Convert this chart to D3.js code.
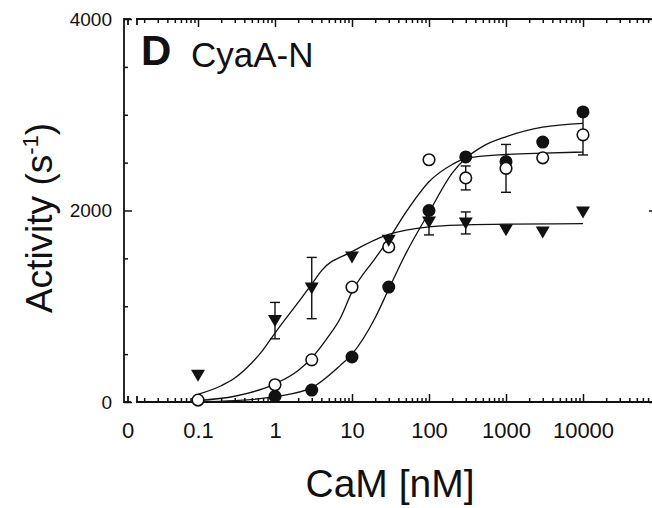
<!DOCTYPE html>
<html>
<head>
<meta charset="utf-8">
<script src="https://cdn.jsdelivr.net/npm/d3@7"></script>
<style>
  body { margin: 0; background: #fff; }
  svg { display: block; }
  text { font-family: "Liberation Sans", Arial, Helvetica, sans-serif; fill: #111; }
</style>
</head>
<body>
<svg id="chart" width="652" height="508"></svg>
<script>
// ---- data ----
// filled circles
const filledX = [1, 3, 10, 30, 100, 300, 1000, 3000, 10000];
const filledY = [60, 125, 470, 1200, 2000, 2560, 2510, 2715, 3030];
// open circles
const openX = [0.1, 1, 3, 10, 30, 100, 300, 1000, 3000, 10000];
const openY = [20, 180, 440, 1200, 1620, 2530, 2340, 2440, 2550, 2790];
const openErr = [0, 0, 0, 0, 0, 0, 125, 250, 0, 210];
// triangles
const triX = [0.1, 1, 3, 10, 30, 100, 300, 1000, 3000, 10000];
const triY = [280, 850, 1190, 1515, 1690, 1880, 1870, 1800, 1775, 1985];
const triErr = [0, 190, 320, 0, 0, 135, 115, 0, 0, 0];

// fitted curves
const triFitX = [0.1, 0.2, 0.3, 0.5, 0.7, 1, 2, 3, 4, 10, 30, 100, 300, 1000, 10000];
const triFitY = [80, 170, 250, 410, 545, 720, 1040, 1230, 1370, 1570, 1750, 1830, 1850, 1858, 1862];
const openFitX = [0.1, 0.3, 1, 2, 3, 5, 7, 10, 20, 30, 50, 100, 200, 300, 1000, 3000, 10000];
const openFitY = [15, 60, 190, 330, 460, 690, 870, 1150, 1500, 1700, 1980, 2300, 2480, 2545, 2585, 2600, 2610];
const filledFitX = [0.1, 0.3, 1, 3, 7, 10, 20, 30, 50, 100, 200, 300, 500, 1000, 3000, 10000];
const filledFitY = [3, 15, 55, 150, 380, 500, 880, 1180, 1550, 1980, 2390, 2545, 2670, 2770, 2870, 2910];

// ticks
const xMajor = [0.1, 1, 10, 100, 1000, 10000];
const xMajorLabels = ["0.1", "1", "10", "100", "1000", "10000"];
const yMajor = [0, 2000, 4000];
const yMajorLabels = ["0", "2000", "4000"];

// ---- layout ----
const svg = d3.select("#chart");
const x = d3.scaleLog().domain([0.1, 10000]).range([198, 583]);
const y = d3.scaleLinear().domain([0, 4000]).range([402, 19]);
const axisL = 124, axisR = 657, zeroX = 128, breakStart = 136, right = 652;

// minor log ticks 0.02 .. 80000
const xMinor = [];
for (let e = -2; e <= 4; e++) {
  for (let m = 2; m <= 9; m++) {
    const v = m * Math.pow(10, e);
    if (x(v) > breakStart && x(v) < right) xMinor.push(v);
  }
}
const yMinor = d3.range(500, 4000, 500).filter(v => v !== 2000);

function styleAxis(g) {
  g.select(".domain").remove();
  g.selectAll(".tick line").attr("stroke", "#111").attr("stroke-width", 1.5);
}

// bottom axis
svg.append("g").attr("transform", "translate(0,402)")
  .call(d3.axisBottom(x).tickValues(xMinor).tickSize(-4).tickFormat(""))
  .call(styleAxis);
svg.append("g").attr("transform", "translate(0,402)")
  .call(d3.axisBottom(x).tickValues(xMajor).tickSize(-8).tickPadding(20)
    .tickFormat((d, i) => xMajorLabels[i]))
  .call(styleAxis)
  .call(g => g.selectAll("text").attr("font-size", 22).attr("font-family", null).attr("fill", "#111"));

// top axis
svg.append("g").attr("transform", "translate(0,19)")
  .call(d3.axisTop(x).tickValues(xMinor).tickSize(-4).tickFormat(""))
  .call(styleAxis);
svg.append("g").attr("transform", "translate(0,19)")
  .call(d3.axisTop(x).tickValues(xMajor).tickSize(-8).tickFormat(""))
  .call(styleAxis);

// left axis
svg.append("g").attr("transform", `translate(${axisL},0)`)
  .call(d3.axisLeft(y).tickValues(yMinor).tickSize(-4).tickFormat(""))
  .call(styleAxis);
svg.append("g").attr("transform", `translate(${axisL},0)`)
  .call(d3.axisLeft(y).tickValues(yMajor).tickSize(-8).tickPadding(12)
    .tickFormat((d, i) => yMajorLabels[i]))
  .call(styleAxis)
  .call(g => g.selectAll("text").attr("font-size", 19).attr("font-family", null).attr("fill", "#111"));

// right axis (line sits just past the edge)
svg.append("g").attr("transform", `translate(${axisR},0)`)
  .call(d3.axisRight(y).tickValues(yMajor).tickSize(-8).tickFormat(""))
  .call(styleAxis);

// axis lines with the break near zero
const lines = svg.append("g").attr("stroke", "#111").attr("stroke-width", 1.8).attr("fill", "none");
lines.append("line").attr("x1", axisL).attr("x2", axisL).attr("y1", y(4000) - 1).attr("y2", y(0) + 1);
[y(0), y(4000)].forEach(yy => {
  lines.append("line").attr("x1", axisL).attr("x2", zeroX + 3).attr("y1", yy).attr("y2", yy);
  lines.append("line").attr("x1", breakStart).attr("x2", right).attr("y1", yy).attr("y2", yy);
  const dir = yy === y(0) ? -1 : 1;
  lines.append("line").attr("x1", zeroX).attr("x2", zeroX).attr("y1", yy).attr("y2", yy + dir * 6);
  lines.append("line").attr("x1", breakStart + 1).attr("x2", breakStart + 1).attr("y1", yy).attr("y2", yy + dir * 6);
});

// "0" label of the x axis
svg.append("text").attr("x", zeroX).attr("y", 438).attr("text-anchor", "middle")
  .attr("font-size", 22).text("0");

// fitted curves
const line = d3.line().x(d => x(d[0])).y(d => y(d[1])).curve(d3.curveMonotoneX);
const curves = svg.append("g").attr("fill", "none").attr("stroke", "#111").attr("stroke-width", 1.3);
curves.append("path").attr("d", line(triFitX.map((v, i) => [v, triFitY[i]])));
curves.append("path").attr("d", line(openFitX.map((v, i) => [v, openFitY[i]])));
curves.append("path").attr("d", line(filledFitX.map((v, i) => [v, filledFitY[i]])));

// error bars
function errorBars(xs, ys, errs) {
  const g = svg.append("g").attr("stroke", "#111").attr("stroke-width", 1.4);
  xs.forEach((v, i) => {
    if (!errs[i]) return;
    const cx = x(v), y1 = y(ys[i] + errs[i]), y2 = y(ys[i] - errs[i]);
    g.append("line").attr("x1", cx).attr("x2", cx).attr("y1", y1).attr("y2", y2);
    g.append("line").attr("x1", cx - 5).attr("x2", cx + 5).attr("y1", y1).attr("y2", y1);
    g.append("line").attr("x1", cx - 5).attr("x2", cx + 5).attr("y1", y2).attr("y2", y2);
  });
}
errorBars(openX, openY, openErr);
errorBars(triX, triY, triErr);

// markers
svg.append("g").selectAll("circle").data(filledX).join("circle")
  .attr("cx", d => x(d)).attr("cy", (d, i) => y(filledY[i])).attr("r", 6.5)
  .attr("fill", "#111");
svg.append("g").selectAll("circle").data(openX).join("circle")
  .attr("cx", d => x(d)).attr("cy", (d, i) => y(openY[i])).attr("r", 5.8)
  .attr("fill", "#fff").attr("stroke", "#111").attr("stroke-width", 1.6);
svg.append("g").selectAll("path").data(triX).join("path")
  .attr("transform", (d, i) => `translate(${x(d)},${y(triY[i])})`)
  .attr("d", "M-7,-5.5L7,-5.5L0,6.5Z").attr("fill", "#111");

// panel label
svg.append("text").attr("x", 141).attr("y", 65).attr("font-size", 42)
  .attr("font-weight", "bold").text("D");
svg.append("text").attr("x", 191).attr("y", 67).attr("font-size", 35).text("CyaA-N");

// axis titles
svg.append("text").attr("x", 390).attr("y", 497).attr("text-anchor", "middle")
  .attr("font-size", 39).text("CaM [nM]");
const yl = svg.append("text").attr("transform", "translate(52,218) rotate(-90)")
  .attr("text-anchor", "middle").attr("font-size", 37);
yl.append("tspan").text("Activity (s");
yl.append("tspan").attr("font-size", 22).attr("dy", -14).text("-1");
yl.append("tspan").attr("dy", 14).text(")");
</script>
</body>
</html>
